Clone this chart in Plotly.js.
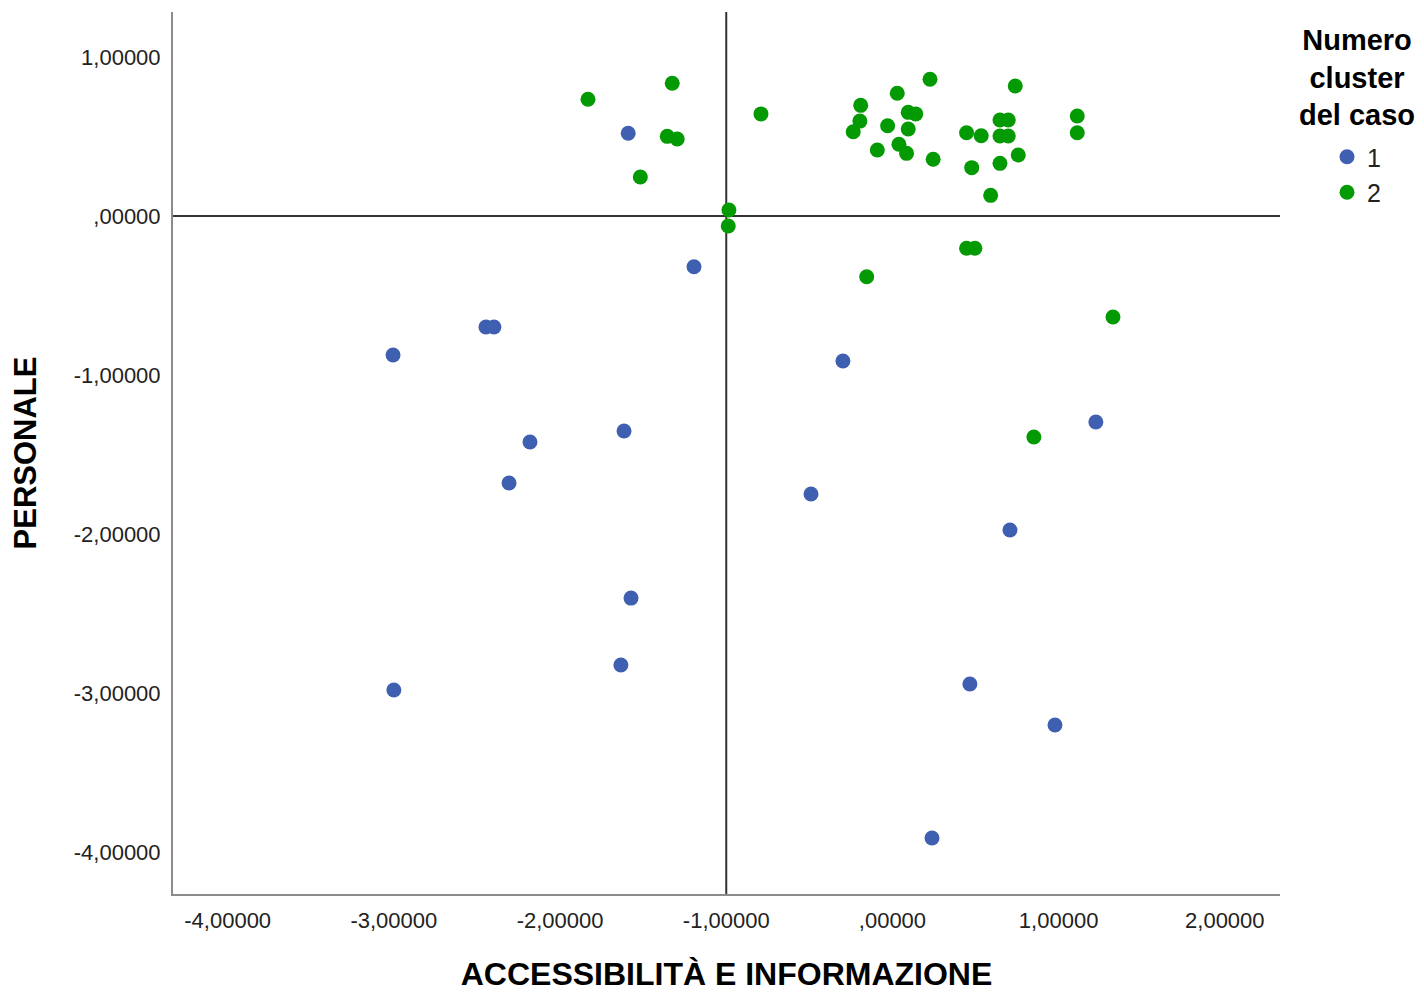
<!DOCTYPE html>
<html>
<head>
<meta charset="utf-8">
<script src="https://cdn.plot.ly/plotly-3.0.1.min.js"></script>
<style>html,body{margin:0;padding:0;background:#fff;}#chart{width:1424px;height:994px;}</style>
</head>
<body>
<div id="chart"></div>
<script>
// Cluster 1 (blue)
const cluster1X = [-1.590, -1.194, -2.446, -2.398, -3.005, -0.298, 1.224, -1.615, -2.181, -2.307, -0.490, 0.707, -1.573, -1.634, -3.000, 0.466, 0.978, 0.238];
const cluster1Y = [0.520, -0.319, -0.698, -0.698, -0.874, -0.912, -1.296, -1.352, -1.421, -1.679, -1.748, -1.975, -2.403, -2.824, -2.981, -2.943, -3.201, -3.912];
// Cluster 2 (green)
const cluster2X = [0.226, 0.739, 0.029, -0.191, 0.095, 0.140, -0.196, -0.236, -0.029, 0.095, 0.647, 0.697, 0.446, 0.534, 0.647, 0.697, 1.112, 1.112, -0.091, 0.039, 0.085, 0.245, 0.477, 0.647, 0.757, 0.591, 0.446, 0.496, -0.155, -1.325, -1.832, -0.791, -1.355, -1.295, -1.517, -0.984, -0.988, 1.327, 0.851];
const cluster2Y = [0.860, 0.818, 0.772, 0.696, 0.652, 0.642, 0.597, 0.530, 0.568, 0.547, 0.604, 0.604, 0.524, 0.505, 0.503, 0.503, 0.629, 0.524, 0.415, 0.451, 0.394, 0.357, 0.304, 0.331, 0.384, 0.130, -0.203, -0.203, -0.382, 0.835, 0.734, 0.642, 0.501, 0.484, 0.245, 0.038, -0.063, -0.635, -1.390];

const clusterNames = ['1', '2'];
const xTickVals = [-4, -3, -2, -1, 0, 1, 2];
const xTickText = ['-4,00000', '-3,00000', '-2,00000', '-1,00000', ',00000', '1,00000', '2,00000'];
const yTickVals = [1, 0, -1, -2, -3, -4];
const yTickText = ['1,00000', ',00000', '-1,00000', '-2,00000', '-3,00000', '-4,00000'];
const legendTitleLines = ['Numero', 'cluster', 'del caso'];
const xTitle = 'ACCESSIBILITÀ E INFORMAZIONE';
const yTitle = 'PERSONALE';
const refX = -1;
const refY = 0;

const FONT = 'Liberation Sans, Arial, sans-serif';
const traces = [
  {x: cluster1X, y: cluster1Y, name: clusterNames[0], type: 'scatter', mode: 'markers',
   marker: {color: '#3f5fb1', size: 15}, cliponaxis: false},
  {x: cluster2X, y: cluster2Y, name: clusterNames[1], type: 'scatter', mode: 'markers',
   marker: {color: '#049a04', size: 15}, cliponaxis: false}
];

const annotations = [{
  text: legendTitleLines.join('<br>'), xref: 'paper', yref: 'paper',
  x: (1357 - 173) / 1107, y: (894 - 77) / 882,
  xanchor: 'center', yanchor: 'middle', align: 'center', showarrow: false,
  font: {family: FONT, size: 29, color: '#000', weight: 'bold'}
}];

const layout = {
  width: 1424, height: 994,
  margin: {l: 173, r: 144, t: 12, b: 100},
  paper_bgcolor: '#fff', plot_bgcolor: '#fff',
  font: {family: FONT, color: '#222'},
  showlegend: true,
  legend: {x: (1327 - 173) / 1107, xanchor: 'left', y: (894 - 134) / 882, yanchor: 'top',
    font: {family: FONT, size: 25, color: '#222'}, bgcolor: 'rgba(0,0,0,0)', tracegroupgap: 0},
  xaxis: {range: [-4.329, 2.332], showgrid: false, zeroline: false, showline: true,
    linecolor: '#8c8c8c', linewidth: 2, ticks: '', tickvals: xTickVals, ticktext: xTickText,
    tickfont: {family: FONT, size: 22, color: '#222'}, ticklabelstandoff: 6,
    title: {text: xTitle, font: {family: FONT, size: 32, color: '#000', weight: 'bold'}, standoff: 30}},
  yaxis: {range: [-4.264, 1.283], showgrid: false, zeroline: false, showline: true,
    linecolor: '#8c8c8c', linewidth: 2, ticks: '', tickvals: yTickVals, ticktext: yTickText,
    tickfont: {family: FONT, size: 22, color: '#222'}, ticklabelstandoff: 6,
    title: {text: yTitle, font: {family: FONT, size: 31, color: '#000', weight: 'bold'}, standoff: 28}},
  shapes: [
    {type: 'line', xref: 'x', yref: 'paper', x0: refX, x1: refX, y0: 0, y1: 1, line: {color: '#333', width: 2}, layer: 'below'},
    {type: 'line', xref: 'paper', yref: 'y', x0: 0, x1: 1, y0: refY, y1: refY, line: {color: '#333', width: 2}, layer: 'below'}
  ],
  annotations: annotations
};

Plotly.newPlot('chart', traces, layout, {displayModeBar: false, responsive: false});
</script>
</body>
</html>
